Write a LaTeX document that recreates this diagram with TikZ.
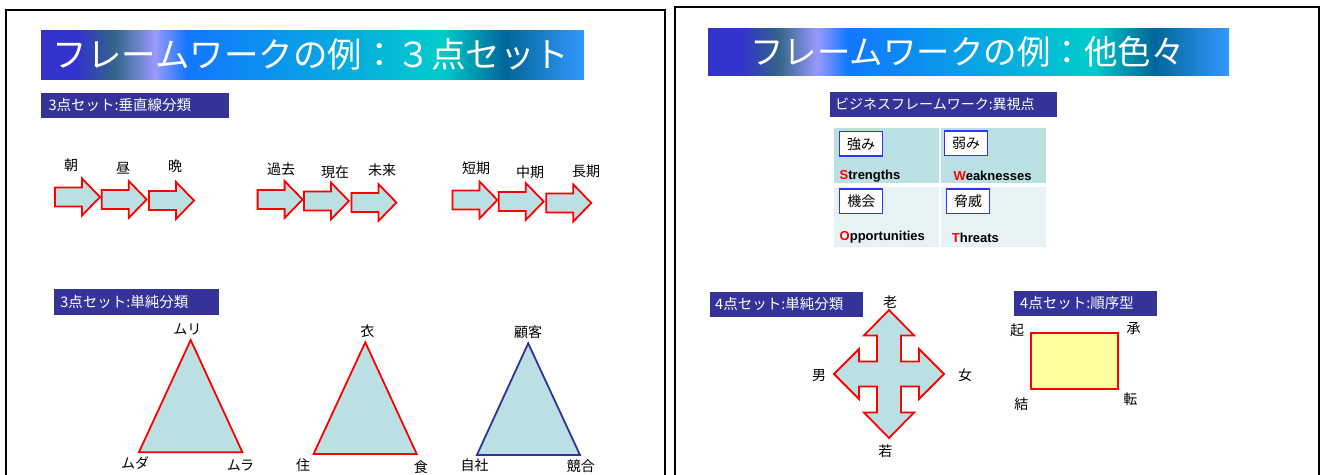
\documentclass[tikz,border=0pt]{standalone}
\usepackage{fontspec}
\setmainfont{Noto Sans CJK JP}
\newfontfamily\arialfont{Liberation Sans}
\definecolor{subblue}{HTML}{333399}
\definecolor{lteal}{HTML}{BBE0E3}
\definecolor{vlteal}{HTML}{E6F2F4}
\definecolor{lyellow}{HTML}{FFFFA0}
\definecolor{gA}{HTML}{3333CC}
\definecolor{gB}{HTML}{336688}
\definecolor{gC}{HTML}{9999FF}
\definecolor{gD}{HTML}{1177FF}
\definecolor{gE}{HTML}{00CCCC}
\definecolor{gF}{HTML}{006699}
\definecolor{gG}{HTML}{3399FF}
\definecolor{boxblue}{HTML}{3333FF}
\pgfdeclarehorizontalshading{titlegrad}{100bp}{color(0bp)=(gA); color(25bp)=(gA); color(28.3bp)=(gA); color(31.8bp)=(gB); color(35.5bp)=(gC); color(38.4bp)=(gD); color(61.9bp)=(gE); color(67.8bp)=(gF); color(75bp)=(gG); color(100bp)=(gG)}
\tikzset{
  panel/.style={line width=2.6pt, draw=black},
  titletxt/.style={text=white, font=\fontsize{34.5}{38}\selectfont, inner sep=0},
  subbar/.style={fill=subblue},
  subtxt/.style={text=white, font=\fontsize{14.5}{16}\selectfont, inner sep=0, anchor=west},
  lbl/.style={font=\fontsize{14}{16}\selectfont, inner sep=0},
  redshape/.style={draw=red, line width=1.8pt, fill=lteal, line join=miter},
  blueshape/.style={draw=subblue, line width=1.8pt, fill=lteal},
  swotbox/.style={draw=boxblue, line width=1.2pt, fill=white, minimum width=43pt, minimum height=24.5pt, inner sep=0, font=\fontsize{14}{16}\selectfont},
  swottxt/.style={font=\arialfont\bfseries\fontsize{13}{15}\selectfont, inner sep=0, anchor=base west},
}
\newcommand\blockarrow[2]{\draw[redshape] (#1,#2) ++(0,-9.5) -- ++(27,0) -- ++(0,-9) -- ++(18,18.5) -- ++(-18,18.5) -- ++(0,-9) -- ++(-27,0) -- cycle;}
\begin{document}
\begin{tikzpicture}[x=1pt,y=-1pt]
\useasboundingbox (0,0) rectangle (1324,474);
\fill[white] (0,0) rectangle (1324,474);
% panels
\draw[panel] (6,480) -- (6,10) -- (665,10) -- (665,480);
\draw[panel] (675,480) -- (675,7) -- (1319,7) -- (1319,480);
% ===== left panel =====
\shade[shading=titlegrad] (41,30) rectangle (584,79);
\node[titletxt] (t1) at (311,54.5) {フレームワークの例：３点セット};
\fill[subbar] (41,93) rectangle (228.5,118);
\node[subtxt] (s1) at (48.4,105.5) {3点セット:垂直線分類};
% arrows
\blockarrow{55}{197}
\blockarrow{101.7}{199.5}
\blockarrow{149}{200.5}
\blockarrow{257.6}{199.5}
\blockarrow{303.9}{201}
\blockarrow{351.4}{202.5}
\blockarrow{452.4}{200}
\blockarrow{498.7}{201.5}
\blockarrow{546.3}{203}
\node[lbl] (a1) at (71,165) {朝};
\node[lbl] (a2) at (123,168) {昼};
\node[lbl] (a3) at (175,166) {晩};
\node[lbl] (b1) at (281,169) {過去};
\node[lbl] (b2) at (335,172) {現在};
\node[lbl] (b3) at (382,170) {未来};
\node[lbl] (c1) at (476,168) {短期};
\node[lbl] (c2) at (530,172) {中期};
\node[lbl] (c3) at (586,171) {長期};
% triangles
\fill[subbar] (53.5,289.3) rectangle (219,315);
\node[subtxt] (s2) at (60.2,302.2) {3点セット:単純分類};
\draw[redshape] (190.7,340) -- (242.4,452.3) -- (138.9,452.3) -- cycle;
\draw[redshape] (365.3,342.3) -- (416.7,454) -- (313.6,454) -- cycle;
\draw[blueshape] (528.2,343.3) -- (580,455) -- (476.9,455) -- cycle;
\node[lbl] (m1) at (187.3,329.5) {ムリ};
\node[lbl] (m2) at (135,463) {ムダ};
\node[lbl] (m3) at (240.5,465.5) {ムラ};
\node[lbl] (i1) at (367.4,331) {衣};
\node[lbl] (i2) at (303,465.5) {住};
\node[lbl] (i3) at (420.9,467.5) {食};
\node[lbl] (k1) at (528.2,332) {顧客};
\node[lbl] (k2) at (474.7,465) {自社};
\node[lbl] (k3) at (580.8,466.5) {競合};
% ===== right panel =====
\shade[shading=titlegrad] (708,28) rectangle (1229,75);
\node[titletxt, font=\fontsize{33.5}{37}\selectfont] (t2) at (967.5,51.5) {フレームワークの例：他色々};
\fill[subbar] (830,92.3) rectangle (1057,116.7);
\node[subtxt, font=\fontsize{14}{16}\selectfont] (s3) at (835,104.5) {ビジネスフレームワーク:異視点};
% SWOT
\fill[lteal] (833.5,128.3) rectangle (938.8,183.3);
\fill[lteal] (940.5,128.3) rectangle (1045.6,183.3);
\fill[vlteal] (833.5,186.7) rectangle (938.8,246.7);
\fill[vlteal] (940.5,186.7) rectangle (1045.6,246.7);
\node[swotbox] (w1) at (861,143.8) {強み};
\node[swotbox] (w2) at (966.2,143.2) {弱み};
\node[swotbox] (w3) at (861.3,201.3) {機会};
\node[swotbox] (w4) at (968,201.3) {脅威};
\node[swottxt] (x1) at (839.5,179.3) {\textcolor{red}{S}trengths};
\node[swottxt] (x2) at (953.3,180.7) {\textcolor{red}{W}eaknesses};
\node[swottxt] (x3) at (839.5,240.7) {\textcolor{red}{O}pportunities};
\node[swottxt] (x4) at (951.7,242.7) {\textcolor{red}{T}hreats};
% 4-point cross
\fill[subbar] (709.6,292.3) rectangle (862.5,316.7);
\node[subtxt] (s4) at (715,304.5) {4点セット:単純分類};
\begin{scope}[shift={(889,374)}]
\draw[redshape] (0,-64) -- (25,-38.5) -- (12,-38.5) -- (12,-12.5) -- (30,-12.5) -- (30,-25) -- (55,0) -- (30,25) -- (30,12.5) -- (12,12.5) -- (12,38.5) -- (25,38.5) -- (0,64) -- (-25,38.5) -- (-12,38.5) -- (-12,12.5) -- (-30,12.5) -- (-30,25) -- (-55,0) -- (-30,-25) -- (-30,-12.5) -- (-12,-12.5) -- (-12,-38.5) -- (-25,-38.5) -- cycle;
\end{scope}
\node[lbl] (r1) at (890,301.7) {老};
\node[lbl] (r2) at (885.4,450.7) {若};
\node[lbl] (r3) at (819,376) {男};
\node[lbl] (r4) at (965,375) {女};
% sequence rectangle
\fill[subbar] (1013.8,291) rectangle (1157,315.7);
\node[subtxt] (s5) at (1020,303.3) {4点セット:順序型};
\draw[draw=red, line width=1.8pt, fill=lyellow] (1030.8,332.7) rectangle (1117.6,389.3);
\node[lbl] (q1) at (1017.2,330.7) {起};
\node[lbl] (q2) at (1133.7,329) {承};
\node[lbl] (q3) at (1021.4,404.3) {結};
\node[lbl] (q4) at (1130.3,399.3) {転};
\end{tikzpicture}
\end{document}
